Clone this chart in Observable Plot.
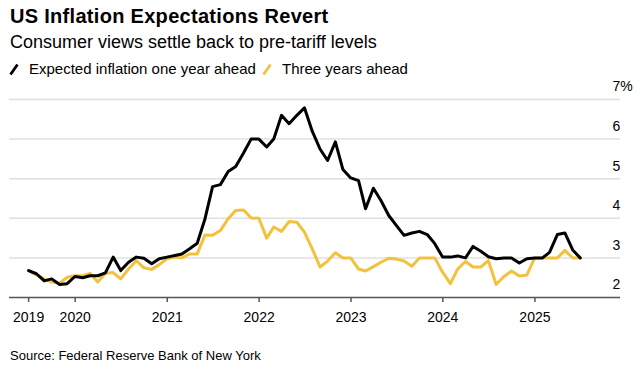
<!DOCTYPE html>
<html>
<head>
<meta charset="utf-8">
<script src="https://cdn.jsdelivr.net/npm/d3@7"></script>
<script src="https://cdn.jsdelivr.net/npm/@observablehq/plot@0.6"></script>
<style>
  html, body { margin: 0; padding: 0; background: #fff; }
  body { width: 641px; height: 373px; position: relative; overflow: hidden;
         font-family: "Liberation Sans", Arial, Helvetica, sans-serif; color: #000; }
  .abs { position: absolute; white-space: nowrap; }
  #title { left: 10px; top: 6px; font-size: 20px; line-height: 20px; font-weight: bold; letter-spacing: 0.3px; }
  #subtitle { left: 10px; top: 34px; font-size: 18px; line-height: 17.5px; }
  .leg { font-size: 15px; line-height: 15px; top: 61px; }
  #source { left: 10px; top: 348.5px; font-size: 13px; line-height: 13px; }
  #chart { position: absolute; left: 0; top: 78px; }
  #legsvg { position: absolute; left: 0; top: 60px; }
</style>
</head>
<body>
<div id="title" class="abs"></div>
<div id="subtitle" class="abs"></div>
<svg id="legsvg" width="641" height="18"></svg>
<div id="leg1" class="abs leg" style="left:29px"></div>
<div id="leg2" class="abs leg" style="left:282px"></div>
<div id="chart"></div>
<div id="source" class="abs"></div>
<script>
// ---- Texts ----
const titleText = "US Inflation Expectations Revert";
const subtitleText = "Consumer views settle back to pre-tariff levels";
const seriesNames = ["Expected inflation one year ahead", "Three years ahead"];
const sourceText = "Source: Federal Reserve Bank of New York";

// ---- Data (monthly survey, %) ----
const months = [
  "2019-06","2019-07","2019-08","2019-09","2019-10","2019-11","2019-12",
  "2020-01","2020-02","2020-03","2020-04","2020-05","2020-06","2020-07","2020-08","2020-09","2020-10","2020-11","2020-12",
  "2021-01","2021-02","2021-03","2021-04","2021-05","2021-06","2021-07","2021-08","2021-09","2021-10","2021-11","2021-12",
  "2022-01","2022-02","2022-03","2022-04","2022-05","2022-06","2022-07","2022-08","2022-09","2022-10","2022-11","2022-12",
  "2023-01","2023-02","2023-03","2023-04","2023-05","2023-06","2023-07","2023-08","2023-09","2023-10","2023-11","2023-12",
  "2024-01","2024-02","2024-03","2024-04","2024-05","2024-06","2024-07","2024-08","2024-09","2024-10","2024-11","2024-12",
  "2025-01","2025-02","2025-03","2025-04","2025-05","2025-06"
];
const oneYearAhead = [
  2.68, 2.60, 2.42, 2.47, 2.33, 2.35, 2.53,
  2.50, 2.55, 2.55, 2.62, 3.02, 2.68, 2.89, 3.02, 2.99, 2.85, 2.98, 3.02,
  3.06, 3.10, 3.23, 3.37, 3.99, 4.80, 4.85, 5.18, 5.31, 5.65, 6.00, 6.00,
  5.80, 6.00, 6.60, 6.39, 6.60, 6.79, 6.20, 5.75, 5.46, 5.93, 5.23, 5.02,
  4.95, 4.24, 4.76, 4.45, 4.07, 3.82, 3.57, 3.63, 3.67, 3.59, 3.36, 3.02,
  3.02, 3.05, 3.00, 3.29, 3.17, 3.03, 2.98, 3.00, 3.00, 2.87, 2.98, 3.00,
  3.00, 3.14, 3.59, 3.63, 3.20, 3.00
];
const threeYearsAhead = [
  2.68, 2.57, 2.47, 2.39, 2.36, 2.51, 2.55,
  2.55, 2.61, 2.39, 2.61, 2.63, 2.47, 2.72, 2.93, 2.75, 2.71, 2.83, 2.98,
  3.02, 3.00, 3.10, 3.10, 3.58, 3.57, 3.69, 3.99, 4.20, 4.21, 4.01, 4.00,
  3.50, 3.78, 3.67, 3.92, 3.90, 3.65, 3.23, 2.77, 2.92, 3.13, 3.00, 3.00,
  2.72, 2.67, 2.78, 2.89, 2.99, 2.97, 2.92, 2.79, 3.00, 3.00, 3.00, 2.64,
  2.35, 2.72, 2.91, 2.77, 2.77, 2.93, 2.33, 2.53, 2.67, 2.54, 2.57, 3.00,
  3.00, 3.00, 3.00, 3.19, 3.00, 3.00
];

// ---- Axis ticks ----
const xTickDates = ["2019-06-30","2020-01-01","2021-01-01","2022-01-01","2023-01-01","2024-01-01","2025-01-01"];
const xTickLabels = ["2019","2020","2021","2022","2023","2024","2025"];
const yTicks = [2, 3, 4, 5, 6, 7];
const yTickLabels = ["2", "3", "4", "5", "6", "7%"];
const gridValues = [3, 4, 5, 6, 7];

// ---- Colors ----
const colorOne = "#000000";
const colorThree = "#f4c13e";

// ---- Build ----
document.getElementById("title").textContent = titleText;
document.getElementById("subtitle").textContent = subtitleText;
document.getElementById("leg1").textContent = seriesNames[0];
document.getElementById("leg2").textContent = seriesNames[1];
document.getElementById("source").textContent = sourceText;

const legsvg = d3.select("#legsvg");
legsvg.append("line").attr("x1", 10.5).attr("y1", 14.5).attr("x2", 17.5).attr("y2", 4.5)
  .attr("stroke", colorOne).attr("stroke-width", 2.8).attr("stroke-linecap", "butt");
legsvg.append("line").attr("x1", 263.5).attr("y1", 14.5).attr("x2", 270.5).attr("y2", 4.5)
  .attr("stroke", colorThree).attr("stroke-width", 2.8).attr("stroke-linecap", "butt");

const monthEnd = s => { const [y, m] = s.split("-").map(Number); return new Date(Date.UTC(y, m, 0)); };
const table = months.map((s, i) => ({ date: monthEnd(s), one: oneYearAhead[i], three: threeYearsAhead[i] }));
const tickDates = xTickDates.map(s => new Date(s + "T00:00:00Z"));
const xLabel = d => xTickLabels[tickDates.findIndex(t => +t === +d)];
const yLabel = v => yTickLabels[yTicks.indexOf(v)];

const chart = Plot.plot({
  width: 641,
  height: 262,
  marginLeft: 9,
  marginRight: 21,
  marginTop: 21,
  marginBottom: 43,
  x: { type: "utc", domain: [new Date(Date.UTC(2019, 3, 15)), new Date(Date.UTC(2025, 11, 7))] },
  y: { domain: [2, 7] },
  style: { fontFamily: "'Liberation Sans', Arial, Helvetica, sans-serif", fontSize: "14px", color: "#000", background: "transparent" },
  marks: [
    Plot.ruleY(gridValues, { stroke: "#e0e0e0", strokeWidth: 1.5 }),
    Plot.ruleY([2], { stroke: "#555", strokeWidth: 1.5 }),
    Plot.axisX({ ticks: tickDates, tickFormat: xLabel, tickSize: 5, tickPadding: 10, stroke: "#555", strokeWidth: 1.5, fontSize: 14, fill: "#000", label: null }),
    Plot.axisY({ anchor: "right", ticks: yTicks, tickFormat: yLabel, tickSize: 0, tickPadding: 0, dx: -8, dy: -12.5, textAnchor: "start", fontSize: 14, fill: "#000", label: null }),
    Plot.lineY(table, { x: "date", y: "three", stroke: colorThree, strokeWidth: 3 }),
    Plot.lineY(table, { x: "date", y: "one", stroke: colorOne, strokeWidth: 3 })
  ]
});
document.getElementById("chart").appendChild(chart);
</script>
</body>
</html>
